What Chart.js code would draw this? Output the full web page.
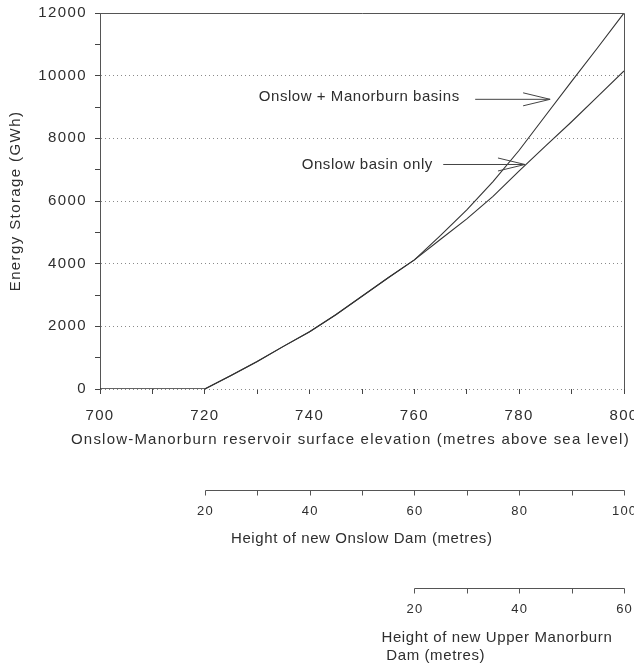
<!DOCTYPE html>
<html><head><meta charset="utf-8">
<script src="https://cdn.jsdelivr.net/npm/chart.js@4.4.0/dist/chart.umd.min.js"></script>
<style>html,body{margin:0;padding:0;background:#fff}#wrap{width:634px;height:667px;position:relative}</style>
</head><body><div id="wrap"><canvas id="c" width="634" height="667"></canvas></div>
<script>
// ---- data ----
const elevation       = [700, 710, 720, 725, 730, 735, 740, 745, 750, 755, 760, 765, 770, 775, 780, 785, 790, 795, 800];
const onslowOnly      = [0, 0, 0, 430, 880, 1360, 1830, 2370, 2960, 3550, 4120, 4780, 5430, 6150, 6960, 7750, 8530, 9340, 10150];
const onslowManorburn = [0, 0, 0, 430, 880, 1360, 1830, 2370, 2960, 3550, 4120, 4900, 5720, 6620, 7620, 8720, 9820, 10900, 12000];
const seriesNames     = ['Onslow basin only', 'Onslow + Manorburn basins'];

const elevationTickLabels = [700, 720, 740, 760, 780, 800];
const storageTickLabels   = [0, 2000, 4000, 6000, 8000, 10000, 12000];

const onslowDamHeights     = [20, 30, 40, 50, 60, 70, 80, 90, 100];
const onslowDamLabels      = [20, 40, 60, 80, 100];
const onslowDamBase        = 700;   // elevation = base + dam height
const manorburnDamHeights  = [20, 30, 40, 50, 60];
const manorburnDamLabels   = [20, 40, 60];
const manorburnDamBase     = 740;

const xTitle = 'Onslow-Manorburn reservoir surface elevation (metres above sea level)';
const yTitle = 'Energy Storage (GWh)';
const onslowDamTitle = ['Height of new Onslow Dam (metres)'];
const manorburnDamTitle = ['Height of new Upper Manorburn', ' Dam (metres)'];

// annotation anchors in data units: [textX, textY, tailX, tipX, arrowY]
const annotationTexts = ['Onslow + Manorburn basins', 'Onslow basin only'];
const annotationAnchors = [
  [730.3, 9320, 771.6, 785.9, 9245],
  [738.5, 7150, 765.5, 781.1, 7165]
];

// ---- styling ----
const FONT = "'Liberation Sans', Arial, Helvetica, sans-serif";
const TXT = '#2e2e2e';
const LINE = '#333333';
const AXIS = '#555555';

const allMajor = (v) => v % 2000 === 0;

const extras = {
  id: 'extras',
  beforeDraw(chart) {
    chart.ctx.letterSpacing = '1.4px';
  },
  afterDraw(chart) {
    const ctx = chart.ctx;
    const xs = chart.scales.x, ys = chart.scales.y;
    const a = chart.chartArea;
    ctx.save();
    // frame: top + right
    ctx.strokeStyle = AXIS; ctx.lineWidth = 1;
    ctx.beginPath();
    ctx.moveTo(a.left, Math.round(a.top) + 0.5);
    ctx.lineTo(Math.round(a.right) + 0.5, Math.round(a.top) + 0.5);
    ctx.lineTo(Math.round(a.right) + 0.5, a.bottom);
    ctx.stroke();

    // x title
    ctx.fillStyle = TXT;
    ctx.letterSpacing = '1.2px';
    ctx.font = '15px ' + FONT;
    ctx.textAlign = 'left'; ctx.textBaseline = 'middle';
    ctx.fillText(xTitle, 71, 440);

    // dam axes
    function damAxis(base, heights, labels, lineY, labelY, title, titleX, titleYs) {
      const px = heights.map(h => Math.round(xs.getPixelForValue(base + h)) + 0.5);
      ctx.strokeStyle = AXIS; ctx.lineWidth = 1;
      ctx.beginPath();
      ctx.moveTo(px[0], lineY); ctx.lineTo(px[px.length - 1], lineY);
      px.forEach(p => { ctx.moveTo(p, lineY); ctx.lineTo(p, lineY + 5); });
      ctx.stroke();
      ctx.fillStyle = TXT;
      ctx.letterSpacing = '1.2px';
      ctx.font = '13px ' + FONT;
      ctx.textAlign = 'center'; ctx.textBaseline = 'middle';
      labels.forEach(l => ctx.fillText(String(l), xs.getPixelForValue(base + l) + 0.6, labelY));
      ctx.letterSpacing = '0.6px';
      ctx.font = '15px ' + FONT;
      ctx.textAlign = 'left';
      title.forEach((t, i) => ctx.fillText(t, titleX[i], titleYs[i]));
    }
    damAxis(onslowDamBase, onslowDamHeights, onslowDamLabels, 490.5, 511.5, onslowDamTitle, [231], [538.5]);
    damAxis(manorburnDamBase, manorburnDamHeights, manorburnDamLabels, 588.5, 609, manorburnDamTitle, [381.5, 381.5], [638, 656]);

    // annotations
    annotationAnchors.forEach((an, i) => {
      const [tx, ty, tailX, tipX, ay] = an;
      ctx.fillStyle = TXT;
      ctx.letterSpacing = '0.55px';
      ctx.font = '15px ' + FONT;
      ctx.textAlign = 'left'; ctx.textBaseline = 'middle';
      ctx.fillText(annotationTexts[i], xs.getPixelForValue(tx), ys.getPixelForValue(ty));
      const x0 = xs.getPixelForValue(tailX), x1 = xs.getPixelForValue(tipX), y = ys.getPixelForValue(ay);
      ctx.strokeStyle = '#444'; ctx.lineWidth = 1;
      ctx.beginPath();
      ctx.moveTo(x0, y); ctx.lineTo(x1, y);
      ctx.moveTo(x1 - 27, y - 6.5); ctx.lineTo(x1, y); ctx.lineTo(x1 - 27, y + 6.5);
      ctx.stroke();
    });
    ctx.restore();
  }
};

const toPts = (ys) => elevation.map((x, i) => ({x, y: ys[i]}));

new Chart(document.getElementById('c'), {
  type: 'line',
  data: {
    datasets: [
      { label: seriesNames[0], data: toPts(onslowOnly), borderColor: LINE, borderWidth: 1.1, pointRadius: 0, tension: 0, fill: false },
      { label: seriesNames[1], data: toPts(onslowManorburn), borderColor: LINE, borderWidth: 1.1, pointRadius: 0, tension: 0, fill: false }
    ]
  },
  options: {
    responsive: false,
    animation: false,
    events: [],
    layout: { padding: { top: 13, right: 10, left: 0, bottom: 0 } },
    plugins: { legend: { display: false }, tooltip: { enabled: false } },
    scales: {
      x: {
        type: 'linear', min: 700, max: 800,
        afterFit(s) { s.height = 278; s.paddingLeft = 0; s.paddingRight = 0; },
        border: { display: false },
        grid: { drawOnChartArea: false, drawTicks: true, tickLength: 5, tickColor: '#444', color: 'transparent' },
        ticks: {
          stepSize: 10, padding: 13, color: TXT, maxRotation: 0, autoSkip: false,
          font: { size: 15, family: FONT },
          callback: (v) => elevationTickLabels.includes(v) ? String(v) : ''
        },
        title: { display: false }
      },
      y: {
        type: 'linear', min: 0, max: 12000,
        afterFit(s) { s.width = 100; s.paddingTop = 0; s.paddingBottom = 0; },
        border: { display: true, color: AXIS, width: 1, dash: [1, 3] },
        grid: {
          drawTicks: true, tickLength: 5, tickColor: '#444',
          color: (c) => (c.tick && allMajor(c.tick.value) && c.tick.value !== 12000) ? '#8a8a8a' : 'transparent'
        },
        ticks: {
          stepSize: 1000, padding: 8, color: TXT, autoSkip: false,
          font: { size: 15, family: FONT },
          callback: (v) => storageTickLabels.includes(v) ? String(v) : ''
        },
        title: { display: true, text: yTitle, color: TXT, font: { size: 15, family: FONT }, padding: { top: 7, bottom: 0 } }
      }
    }
  },
  plugins: [extras]
});
</script></body></html>
